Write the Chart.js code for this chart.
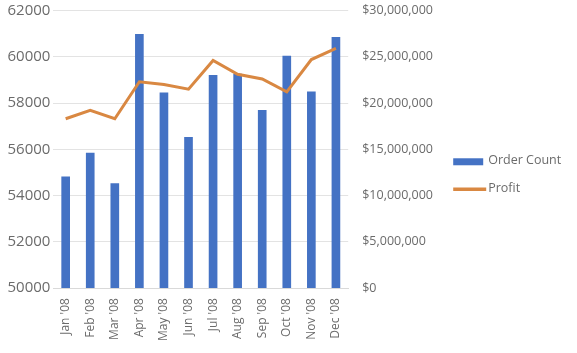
<!DOCTYPE html>
<html>
<head>
<meta charset="utf-8">
<script src="https://cdn.jsdelivr.net/npm/chart.js@4/dist/chart.umd.min.js"></script>
<style>
  html, body { margin: 0; padding: 0; background: #fff; }
  #wrap { width: 577px; height: 353px; }
</style>
</head>
<body>
<div id="wrap"><canvas id="myChart" width="577" height="353"></canvas></div>
<script>
const months = ["Jan '08", "Feb '08", "Mar '08", "Apr '08", "May '08", "Jun '08",
                "Jul '08", "Aug '08", "Sep '08", "Oct '08", "Nov '08", "Dec '08"];
const orderCount = [54810, 55840, 54520, 60970, 58440, 56520, 59200, 59250, 57680, 60030, 58480, 60840];
const profit = [18300000, 19200000, 18300000, 22300000, 22000000, 21500000,
                24600000, 23100000, 22600000, 21200000, 24700000, 25900000];
const countTicks = [50000, 52000, 54000, 56000, 58000, 60000, 62000];
const profitTicks = [0, 5000000, 10000000, 15000000, 20000000, 25000000, 30000000];

const barBlue = '#4472c4';
const lineOrange = '#d98842';
const tickGrey = '#6b6b6b';

// legend drawn by hand: the built-in right legend gets squeezed next to the second axis
const sideLegend = {
	id: 'sideLegend',
	afterDraw(chart) {
		const c = chart.ctx;
		const x = chart.chartArea.right + 105;
		const midY = (chart.chartArea.top + chart.chartArea.bottom) / 2;
		c.save();
		c.font = '12.5px "Open Sans"';
		c.textBaseline = 'middle';
		chart.data.datasets.forEach((ds, i) => {
			const y = midY + 12 + i * 28;
			if (ds.type === 'bar') {
				c.fillStyle = ds.backgroundColor;
				c.fillRect(x, y - 3, 30, 7);
			} else {
				c.strokeStyle = ds.borderColor;
				c.lineWidth = 3.5;
				c.beginPath();
				c.moveTo(x, y);
				c.lineTo(x + 33, y);
				c.stroke();
			}
			c.fillStyle = tickGrey;
			c.fillText(ds.label, x + 35, y - 1);
		});
		c.restore();
	}
};

const ctx = document.getElementById('myChart');
let myChart = new Chart(ctx, {
	data: {
		labels: months,
		datasets: [{
			type: 'bar',
			label: 'Order Count',
			data: orderCount,
			backgroundColor: barBlue,
			barThickness: 8,
			yAxisID: 'y',
			order: 2
		}, {
			type: 'line',
			label: 'Profit',
			data: profit,
			borderColor: lineOrange,
			backgroundColor: lineOrange,
			borderWidth: 3,
			pointRadius: 0,
			tension: 0,
			yAxisID: 'y1',
			order: 1
		}]
	},
	options: {
		responsive: false,
		animation: false,
		layout: { padding: { left: 4.5, top: 0, right: 142, bottom: 2 } },
		plugins: {
			tooltip: { enabled: false },
			legend: { display: false }
		},
		scales: {
			x: {
				grid: { display: false, drawTicks: false },
				border: { color: '#d9d9d9' },
				ticks: {
					maxRotation: 90,
					minRotation: 90,
					padding: 10,
					color: tickGrey,
					font: { family: 'Open Sans', size: 12 }
				}
			},
			y: {
				position: 'left',
				min: 50000,
				max: 62000,
				afterBuildTicks: axis => { axis.ticks = countTicks.map(v => ({ value: v })); },
				grid: { color: '#e3e3e3', drawTicks: false },
				border: { display: false },
				ticks: {
					padding: 3,
					color: tickGrey,
					font: { family: 'Open Sans', size: 15, lineHeight: 1 },
					callback: v => String(v)
				}
			},
			y1: {
				position: 'right',
				min: 0,
				max: 30000000,
				afterBuildTicks: axis => { axis.ticks = profitTicks.map(v => ({ value: v })); },
				grid: { drawOnChartArea: false, drawTicks: true, tickLength: 12, color: 'rgba(0,0,0,0)' },
				border: { display: false },
				ticks: {
					padding: 2,
					color: tickGrey,
					font: { family: 'Open Sans', size: 12.5, lineHeight: 1 },
					callback: v => '$' + v.toLocaleString('en-US')
				}
			}
		}
	},
	plugins: [sideLegend]
});
</script>
</body>
</html>
